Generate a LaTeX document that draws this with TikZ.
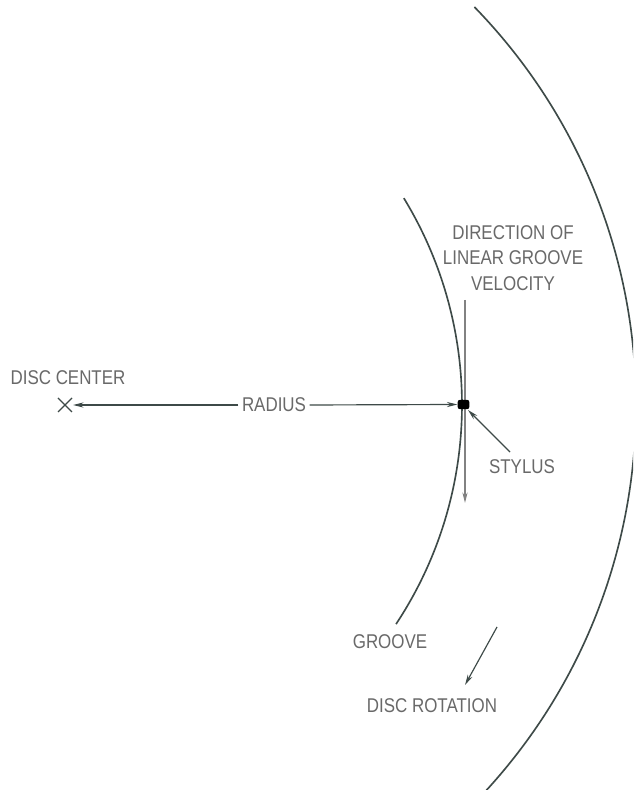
\documentclass[tikz,border=0pt]{standalone}
\usepackage{fontspec}
\setmainfont{Liberation Sans}[FakeStretch=0.85]
\usetikzlibrary{arrows.meta}
\definecolor{ink}{RGB}{62,74,72}
\definecolor{txt}{RGB}{105,105,105}
\definecolor{lightink}{RGB}{130,130,130}
\tikzset{
  lbl/.style={inner sep=0pt, text=txt, font=\fontsize{17}{22}\selectfont},
  arc line/.style={draw=ink, line width=1.4pt},
  conn/.style={draw=ink, line width=1pt, -{Stealth[length=9pt,width=4.4pt]}},
  thin conn/.style={draw=lightink, line width=0.9pt, -{Stealth[length=9pt,width=4.4pt]}},
}
\begin{document}
\begin{tikzpicture}[x=0.03cm, y=0.03cm]
\clip (0,0) rectangle (633,790);
\fill[white] (0,0) rectangle (633,790);
% disc center and stylus
\coordinate (dc) at (65,385);
% outer disc edge and groove
\draw[arc line] (65,385) ++(44.2:571) arc[start angle=44.2, end angle=-43.5, radius=571];
\draw[arc line] (65,385) ++(31.4:397) arc[start angle=31.4, end angle=-33.5, radius=397];
% velocity direction
\coordinate (vtop) at (465,490);
\coordinate (vbot) at (465,287);
\draw[thin conn] (vtop) -- (vbot);
% stylus
\node[rectangle, rounded corners=2pt, fill=black, inner sep=0pt, minimum width=10pt, minimum height=8pt] (sty) at (463.5,385.5) {};
% X mark
\draw[ink, line width=1.1pt] (58,378) -- (72,392) (58,392) -- (72,378);
% labels
\node[lbl] (dclbl) at (68,412) {DISC CENTER};
\node[lbl, inner xsep=3pt] (rad) at (274,385) {RADIUS};
\node[lbl, align=center] (dir) at (513,532) {DIRECTION OF\\LINEAR GROOVE\\VELOCITY};
\node[lbl] (stylbl) at (522,323) {STYLUS};
\node[lbl] (grv) at (390,148) {GROOVE};
\node[lbl] (rot) at (432,84.5) {DISC ROTATION};
% coordinates
\coordinate (xm) at (73,385);
\coordinate (sp) at (510,338);
\coordinate (sptip) at (468,380);
\coordinate (r1) at (497,163);
\coordinate (r2) at (465,105);
% connectors
\draw[conn] (rad.west) -- (xm);
\draw[conn] (rad.east) -- (sty.west);
\draw[conn] (sp) -- (sptip);
\draw[conn] (r1) -- (r2);
\end{tikzpicture}
\end{document}
